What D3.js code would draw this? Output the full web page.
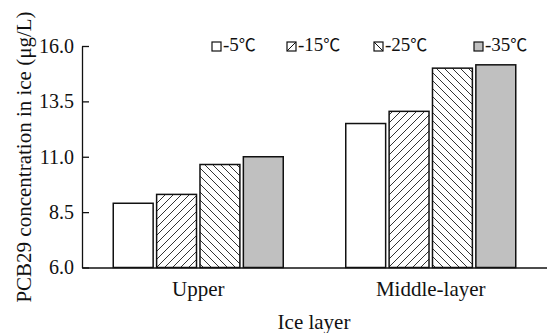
<!DOCTYPE html>
<html lang="en">
<head>
<meta charset="UTF-8">
<title>PCB29 in ice</title>
<script src="https://cdn.jsdelivr.net/npm/d3@7"></script>
<style>
  body { margin: 0; background: #fff; }
  text { font-family: "Liberation Serif", "Times New Roman", serif; fill: #111; }
</style>
</head>
<body>
<script>
// data
var categories = ["Upper", "Middle-layer"];
var series = ["-5℃", "-15℃", "-25℃", "-35℃"];
var v5 = [8.9, 12.5];
var v15 = [9.3, 13.05];
var v25 = [10.65, 15.0];
var v35 = [11.0, 15.15];
var yTicks = [6.0, 8.5, 11.0, 13.5, 16.0];

var values = [v5, v15, v25, v35];
var W = 547, H = 333;
var margin = {left: 82, right: 0, top: 46, bottom: 65};

var svg = d3.select("body").append("svg")
    .attr("width", W).attr("height", H);

var defs = svg.append("defs");
function hatch(id, dir) {
    var p = defs.append("pattern").attr("id", id)
        .attr("patternUnits", "userSpaceOnUse")
        .attr("width", 8).attr("height", 8);
    p.append("rect").attr("width", 8).attr("height", 8).attr("fill", "#fff");
    if (dir > 0) {
        p.append("path").attr("d", "M-2,2 L2,-2 M0,8 L8,0 M6,10 L10,6");
    } else {
        p.append("path").attr("d", "M-2,6 L2,10 M0,0 L8,8 M6,-2 L10,2");
    }
    p.select("path").attr("stroke", "#333").attr("stroke-width", 1);
}
hatch("h15", 1);
hatch("h25", -1);
var fills = ["#fff", "url(#h15)", "url(#h25)", "#c0c0c0"];

var x0 = d3.scaleBand().domain(categories).range([margin.left, W - margin.right]).padding(0);
var groupW = 170;
var x1 = d3.scaleBand().domain(series).range([0, groupW]).paddingInner(0.08);
var y = d3.scaleLinear().domain([6, 16]).range([H - margin.bottom - 0.5, margin.top]);

// bars
categories.forEach(function (c, ci) {
    var off = x0(c) + (x0.bandwidth() - groupW) / 2;
    svg.append("g").selectAll("rect")
        .data(series)
        .enter().append("rect")
        .attr("x", function (s) { return off + x1(s); })
        .attr("width", x1.bandwidth())
        .attr("y", function (s, si) { return y(values[si][ci]); })
        .attr("height", function (s, si) { return y(6) - y(values[si][ci]); })
        .attr("fill", function (s, si) { return fills[si]; })
        .attr("stroke", "#111")
        .attr("stroke-width", 1.5);
});

// y axis
var yAxis = d3.axisLeft(y).tickValues(yTicks).tickSizeInner(-7).tickSizeOuter(0)
    .tickPadding(8).tickFormat(d3.format(".1f"));
var gy = svg.append("g").attr("transform", "translate(" + margin.left + ",0)").call(yAxis);
gy.selectAll("text").style("font-size", "20px").style("font-family", "Liberation Serif");
gy.selectAll("line, path").attr("stroke", "#111").attr("stroke-width", 1.3);

// x axis
var gx = svg.append("g").attr("transform", "translate(0," + y(6) + ")")
    .call(d3.axisBottom(x0).tickSize(0).tickPadding(14));
gx.selectAll("text").style("font-size", "21px").style("font-family", "Liberation Serif");
gx.select("path").attr("stroke", "#111").attr("stroke-width", 1.3);

// axis titles
svg.append("text")
    .attr("x", 314).attr("y", 329)
    .attr("text-anchor", "middle").style("font-size", "21px")
    .text("Ice layer");
svg.append("text")
    .attr("transform", "translate(31,157) rotate(-90)")
    .attr("text-anchor", "middle").style("font-size", "21px")
    .text("PCB29 concentration in ice (μg/L)");

// legend
var legX = [212, 287, 374, 474];
var leg = svg.append("g");
series.forEach(function (s, i) {
    var g = leg.append("g").attr("transform", "translate(" + legX[i] + ",42)");
    g.append("rect").attr("width", 9).attr("height", 9)
        .attr("fill", i === 3 ? "#c0c0c0" : "#fff")
        .attr("stroke", "#111").attr("stroke-width", 1.2);
    if (i === 1) g.append("line").attr("x1", 0).attr("y1", 9).attr("x2", 9).attr("y2", 0).attr("stroke", "#111");
    if (i === 2) g.append("line").attr("x1", 0).attr("y1", 0).attr("x2", 9).attr("y2", 9).attr("stroke", "#111");
    var t = g.append("text").attr("x", 11).attr("y", 9).style("font-size", "19px");
    t.append("tspan").text(s.slice(0, -1));
    t.append("tspan").style("font-family", "Noto Sans CJK SC").style("font-size", "17px")
        .text(s.slice(-1));
});
</script>
</body>
</html>
